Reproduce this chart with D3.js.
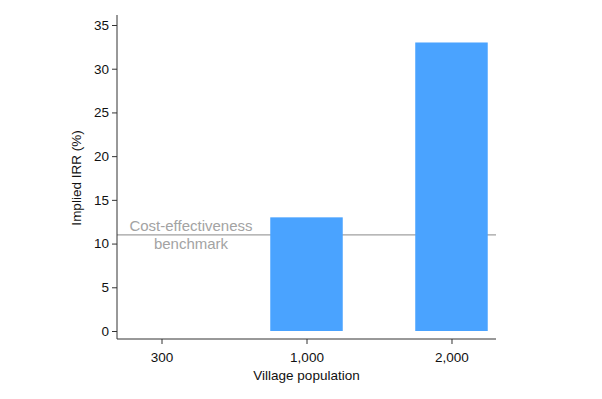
<!DOCTYPE html>
<html lang="en">
<head>
<meta charset="UTF-8">
<script src="https://d3js.org/d3.v7.min.js"></script>
<style>
  body { margin: 0; background: #fff; }
  text { font-family: "Liberation Sans", Arial, Helvetica, sans-serif; }
</style>
</head>
<body>
<div id="chart"></div>
<script>
// data
const populations = ["300", "1,000", "2,000"]
const irrValues = [0, 13, 33]
const benchmark = 11
const benchmarkLabel = ["Cost-effectiveness", "benchmark"]
const yTicks = [0, 5, 10, 15, 20, 25, 30, 35]

const width = 602
const height = 399

const svg = d3.select("#chart")
    .append("svg")
    .attr("width", width)
    .attr("height", height)

// plot area
const left = 117, right = 496
const axisY = 339

const x = d3.scalePoint()
    .domain(populations)
    .range([left, right])
    .padding(0.307)

const y = d3.scaleLinear()
    .domain([0, 35])
    .range([331, 25])

const barW = x.step() * 0.5

// benchmark line goes under the bars
svg.append("line")
    .attr("x1", left)
    .attr("x2", right)
    .attr("y1", y(benchmark))
    .attr("y2", y(benchmark))
    .attr("stroke", "#a0a0a0")
    .attr("stroke-width", 1.2)

svg.selectAll("text.bench")
    .data(benchmarkLabel)
    .join("text")
    .attr("class", "bench")
    .attr("x", 191)
    .attr("y", (d, i) => y(benchmark) - 4 + i * 18)
    .attr("text-anchor", "middle")
    .attr("font-size", 15)
    .attr("fill", "#a3a3a3")
    .text(d => d)

// bars
svg.selectAll("rect.bar")
    .data(irrValues.map((v, i) => ({cat: populations[i], v: v})).filter(d => d.v > 0))
    .join("rect")
    .attr("class", "bar")
    .attr("x", d => x(d.cat) - barW / 2)
    .attr("width", barW)
    .attr("y", d => y(d.v))
    .attr("height", d => y(0) - y(d.v))
    .attr("fill", "#4aa3ff")

// y axis
const yAxis = svg.append("g")
    .attr("transform", `translate(${left},0)`)
    .call(d3.axisLeft(y).tickValues(yTicks).tickSize(5).tickPadding(3))
yAxis.select(".domain").attr("d", `M0,15V${axisY}`).attr("stroke", "#333")
yAxis.selectAll(".tick line").attr("stroke", "#333")
yAxis.selectAll(".tick text").attr("font-size", 13.5).attr("fill", "#111")
    .style("font-family", "'Liberation Sans', Arial, sans-serif")

// x axis
const xAxis = svg.append("g")
    .attr("transform", `translate(0,${axisY})`)
    .call(d3.axisBottom(x).tickSize(5).tickPadding(8))
xAxis.select(".domain").attr("d", `M${left},0H${right}`).attr("stroke", "#333")
xAxis.selectAll(".tick line").attr("stroke", "#333")
xAxis.selectAll(".tick text").attr("font-size", 13.5).attr("fill", "#111")
    .style("font-family", "'Liberation Sans', Arial, sans-serif")

// axis titles
svg.append("text")
    .attr("x", (left + right) / 2)
    .attr("y", 380)
    .attr("text-anchor", "middle")
    .attr("font-size", 13.5)
    .attr("fill", "#111")
    .text("Village population")

svg.append("text")
    .attr("transform", `translate(81,${y(17.5)}) rotate(-90)`)
    .attr("text-anchor", "middle")
    .attr("font-size", 13.5)
    .attr("fill", "#111")
    .text("Implied IRR (%)")
</script>
</body>
</html>
